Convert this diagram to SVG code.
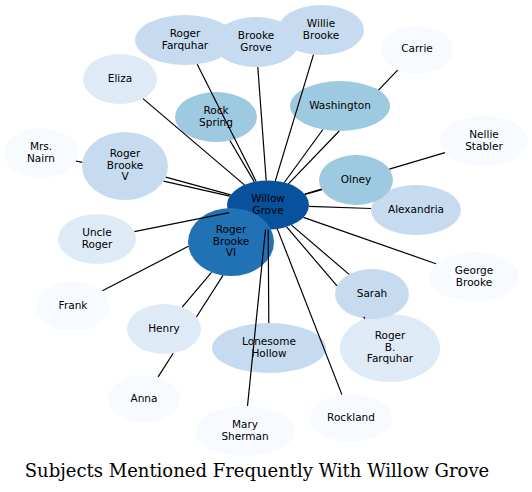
<svg xmlns="http://www.w3.org/2000/svg" width="532" height="492" viewBox="0 0 532 492">
<style>
.lbl{font-family:"DejaVu Sans","Liberation Sans",sans-serif;font-size:10.5px;fill:#000;text-anchor:middle}
.title{font-family:"DejaVu Serif","Liberation Serif",serif;font-size:18px;fill:#000;text-anchor:middle}
.c0{fill:#08519c}.c1{fill:#2171b5}.c2{fill:#9ecae1}.c3{fill:#c6dbef}.c4{fill:#deebf7}.c5{fill:#f7fbff}
#edges path{stroke:#000;stroke-width:1.2;fill:none}
</style>
<rect width="532" height="492" fill="#fff"/>
<g id="nodes">
<g id="n-willow-grove"><ellipse class="c0" cx="268" cy="205" rx="41" ry="24.5"/><text class="lbl"><tspan x="268" y="202">Willow</tspan><tspan x="268" y="213.6">Grove</tspan></text></g>
<g id="n-roger-brooke-vi"><ellipse class="c1" cx="231" cy="242" rx="43" ry="34"/><text class="lbl"><tspan x="231" y="233.3">Roger</tspan><tspan x="231" y="244.8">Brooke</tspan><tspan x="231" y="256.3">VI</tspan></text></g>
<g id="n-roger-farquhar"><ellipse class="c3" cx="185" cy="40" rx="50" ry="25"/><text class="lbl"><tspan x="185" y="37">Roger</tspan><tspan x="185" y="48.6">Farquhar</tspan></text></g>
<g id="n-brooke-grove"><ellipse class="c3" cx="256" cy="42" rx="43" ry="25"/><text class="lbl"><tspan x="256" y="39">Brooke</tspan><tspan x="256" y="50.6">Grove</tspan></text></g>
<g id="n-willie-brooke"><ellipse class="c3" cx="321" cy="30" rx="43" ry="25"/><text class="lbl"><tspan x="321" y="27">Willie</tspan><tspan x="321" y="38.6">Brooke</tspan></text></g>
<g id="n-carrie"><ellipse class="c5" cx="417" cy="50" rx="36" ry="24"/><text class="lbl" x="417" y="52.3">Carrie</text></g>
<g id="n-eliza"><ellipse class="c4" cx="120" cy="79" rx="37" ry="25"/><text class="lbl" x="120" y="81.8">Eliza</text></g>
<g id="n-rock-spring"><ellipse class="c2" cx="216" cy="117" rx="41" ry="25"/><text class="lbl"><tspan x="216" y="114">Rock</tspan><tspan x="216" y="125.6">Spring</tspan></text></g>
<g id="n-washington"><ellipse class="c2" cx="340" cy="106" rx="50" ry="25"/><text class="lbl" x="340" y="108.8">Washington</text></g>
<g id="n-nellie-stabler"><ellipse class="c5" cx="484" cy="141" rx="44" ry="25"/><text class="lbl"><tspan x="484" y="138">Nellie</tspan><tspan x="484" y="149.6">Stabler</tspan></text></g>
<g id="n-mrs-nairn"><ellipse class="c5" cx="41" cy="153" rx="37" ry="25"/><text class="lbl"><tspan x="41" y="150">Mrs.</tspan><tspan x="41" y="161.6">Nairn</tspan></text></g>
<g id="n-roger-brooke-v"><ellipse class="c3" cx="125" cy="166" rx="43" ry="34"/><text class="lbl"><tspan x="125" y="157.3">Roger</tspan><tspan x="125" y="168.8">Brooke</tspan><tspan x="125" y="180.3">V</tspan></text></g>
<g id="n-alexandria"><ellipse class="c3" cx="416" cy="210" rx="45" ry="25"/><text class="lbl" x="416" y="212.8">Alexandria</text></g>
<g id="n-olney"><ellipse class="c2" cx="356" cy="180" rx="37" ry="25"/><text class="lbl" x="356" y="182.8">Olney</text></g>
<g id="n-uncle-roger"><ellipse class="c4" cx="97" cy="239" rx="39" ry="25"/><text class="lbl"><tspan x="97" y="236">Uncle</tspan><tspan x="97" y="247.6">Roger</tspan></text></g>
<g id="n-george-brooke"><ellipse class="c5" cx="474" cy="277" rx="45" ry="25"/><text class="lbl"><tspan x="474" y="274">George</tspan><tspan x="474" y="285.6">Brooke</tspan></text></g>
<g id="n-roger-b-farquhar"><ellipse class="c4" cx="390" cy="348" rx="50" ry="34"/><text class="lbl"><tspan x="390" y="339.3">Roger</tspan><tspan x="390" y="350.8">B.</tspan><tspan x="390" y="362.3">Farquhar</tspan></text></g>
<g id="n-sarah"><ellipse class="c3" cx="372" cy="294" rx="37" ry="25"/><text class="lbl" x="372" y="296.8">Sarah</text></g>
<g id="n-frank"><ellipse class="c5" cx="73" cy="306" rx="37" ry="25"/><text class="lbl" x="73" y="308.8">Frank</text></g>
<g id="n-henry"><ellipse class="c4" cx="164" cy="329" rx="37" ry="25"/><text class="lbl" x="164" y="331.8">Henry</text></g>
<g id="n-lonesome-hollow"><ellipse class="c3" cx="269" cy="348" rx="57" ry="25"/><text class="lbl"><tspan x="269" y="345">Lonesome</tspan><tspan x="269" y="356.6">Hollow</tspan></text></g>
<g id="n-anna"><ellipse class="c5" cx="144" cy="399" rx="36" ry="24"/><text class="lbl" x="144" y="401.8">Anna</text></g>
<g id="n-rockland"><ellipse class="c5" cx="351" cy="418" rx="41" ry="24"/><text class="lbl" x="351" y="420.8">Rockland</text></g>
<g id="n-mary-sherman"><ellipse class="c5" cx="245" cy="431" rx="50" ry="25"/><text class="lbl"><tspan x="245" y="428">Mary</tspan><tspan x="245" y="439.6">Sherman</tspan></text></g>
</g>
<g id="edges">
<path d="M197.2,64.3L256.2,181.6"/>
<path d="M229.9,140.5L254.3,181.9"/>
<path d="M257.8,67L266.2,180.5"/>
<path d="M313.5,54.6L275.3,180.9"/>
<path d="M322.9,129.5L284.3,182.5"/>
<path d="M397.6,70.2L378.5,90.1M339.2,131L288.4,183.8"/>
<path d="M445,152.6L389.3,169.1M321.6,189.1L304.7,194.1"/>
<path d="M321.9,189.7L305,194.5"/>
<path d="M371.1,208.5L308.9,206.4"/>
<path d="M435.9,263.7L303.4,217.4"/>
<path d="M349.1,274.4L291.5,225.1"/>
<path d="M286.6,226.8L337,285.9M363.6,317L364.9,318.6"/>
<path d="M341.9,394.6L277.3,228.9"/>
<path d="M268.8,323L268.2,229.5"/>
<path d="M247.5,406L265.5,229.5"/>
<path d="M158.1,376.9L173.2,353.2M196.4,317L223,275.4"/>
<path d="M182.2,307.2L211.5,272.3"/>
<path d="M102.4,290.8L188.4,246.3"/>
<path d="M134.3,231.6L229.1,212.7"/>
<path d="M76,161L82.2,162.4M163.6,181.1L229.7,196.2"/>
<path d="M165.7,177.1L230.7,194.8"/>
<path d="M143,98.6L244.4,184.9"/>
</g>
<text class="title" x="257" y="476.5">Subjects Mentioned Frequently With Willow Grove</text>
</svg>
